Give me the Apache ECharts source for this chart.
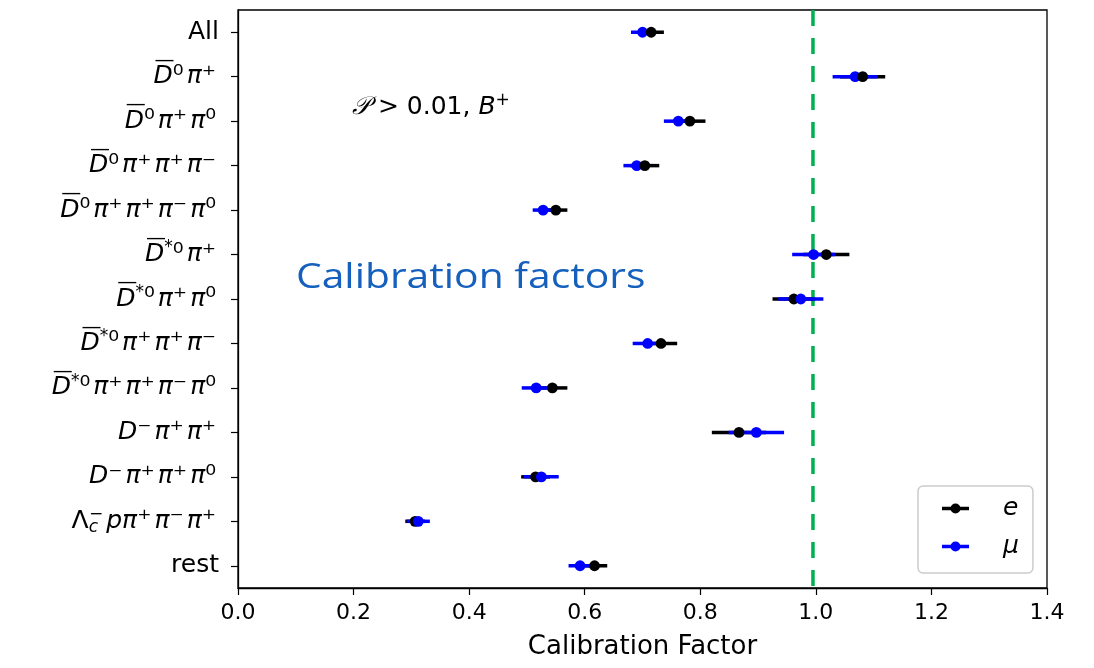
<!DOCTYPE html>
<html><head><meta charset="utf-8">
<script src="https://cdn.jsdelivr.net/npm/echarts@6/dist/echarts.min.js"></script>
<style>html,body{margin:0;padding:0;background:#fff}#c{width:1094px;height:668px}</style>
</head><body><div id="c"></div>
<script>
// ---- data ----
// '~D' = overlined D, '^{..}' superscript, '_{..}' subscript
const categories = [
  'All',
  '~D^{0}π^{+}',
  '~D^{0}π^{+}π^{0}',
  '~D^{0}π^{+}π^{+}π^{−}',
  '~D^{0}π^{+}π^{+}π^{−}π^{0}',
  '~D^{*0}π^{+}',
  '~D^{*0}π^{+}π^{0}',
  '~D^{*0}π^{+}π^{+}π^{−}',
  '~D^{*0}π^{+}π^{+}π^{−}π^{0}',
  'D^{−}π^{+}π^{+}',
  'D^{−}π^{+}π^{+}π^{0}',
  'Λ_{c}^{−}pπ^{+}π^{−}π^{+}',
  'rest'
];
const eValues  = [0.715, 1.081, 0.782, 0.704, 0.550, 1.018, 0.962, 0.732, 0.544, 0.867, 0.515, 0.3065, 0.617];
const eErrors  = [0.022, 0.039, 0.027, 0.025, 0.020, 0.040, 0.037, 0.028, 0.026, 0.047, 0.025, 0.017, 0.022];
const muValues = [0.700, 1.068, 0.762, 0.690, 0.528, 0.996, 0.974, 0.709, 0.516, 0.897, 0.525, 0.312, 0.592];
const muErrors = [0.020, 0.039, 0.025, 0.023, 0.018, 0.037, 0.039, 0.026, 0.025, 0.048, 0.030, 0.020, 0.020];
const seriesNames = ['e', 'μ'];
const refLine = 0.995;
const xMin = 0, xMax = 1.4, xStep = 0.2;
const axisTitle = 'Calibration Factor';
const cutText = '0.01';
const overlayText = 'Calibration factors';

// ---- helpers ----
const F = 'DejaVu Sans';
const SUP = { '0': '\u2070', '+': '\u207A', '−': '\u207B' };
function toRich(s) {
  if (!/[\^_~]/.test(s)) return '{r|' + s + '}';
  let out = '', buf = '', i = 0, afterSub = false;
  const flush = () => { if (buf) { out += '{m|' + buf + '}'; buf = ''; } };
  while (i < s.length) {
    const ch = s[i];
    if ((ch === '^' || ch === '_') && s[i + 1] === '{') {
      const j = s.indexOf('}', i);
      const body = s.slice(i + 2, j);
      flush();
      if (ch === '_') out += '{sub|' + body + '}';
      else if (afterSub) out += '{supk|' + body + '}';
      else {
        let u = '';
        for (const c of body) {
          if (c === '*') { if (u) { out += '{u|' + u + '}'; u = ''; } out += '{ast|*}'; }
          else u += SUP[c];
        }
        out += '{u|' + u + '}';
      }
      afterSub = ch === '_';
      i = j + 1;
      continue;
    }
    afterSub = false;
    if (ch === '~') { flush(); out += '{bar|—}{mb|' + s[i + 1] + '}'; i += 2; }
    else if (ch === 'Λ') { flush(); out += '{up|Λ}'; i++; }
    else { buf += ch; i++; }
  }
  flush();
  return out;
}
const richLabel = {
  r:    { fontFamily: F, fontSize: 25, lineHeight: 30, color: '#000' },
  m:    { fontFamily: F, fontSize: 25, fontStyle: 'italic', lineHeight: 30, color: '#000' },
  u:    { fontFamily: F, fontSize: 27, lineHeight: 30, padding: [0, 3, 0, 0], color: '#000' },
  ast:  { fontFamily: F, fontSize: 17, lineHeight: 19, verticalAlign: 'top', color: '#000' },
  bar:  { fontFamily: F, fontSize: 20, lineHeight: 22, verticalAlign: 'top', padding: [-11, 0, 0, 2], color: '#000' },
  mb:   { fontFamily: F, fontSize: 25, fontStyle: 'italic', lineHeight: 30, padding: [0, 0, 0, -21], color: '#000' },
  up:   { fontFamily: F, fontSize: 25, lineHeight: 30, color: '#000' },
  supk: { fontFamily: F, fontSize: 17, lineHeight: 19, verticalAlign: 'top', padding: [0, 3, 0, -9], color: '#000' },
  sub:  { fontFamily: F, fontSize: 17, fontStyle: 'italic', lineHeight: 15, verticalAlign: 'bottom', color: '#000' }
};
const ICON = 'path://M0,3.3H27V6.7H0Z M8.5,5A5,5 0 1 1 18.5,5A5,5 0 1 1 8.5,5Z';

function errSeries(name, vals, errs, other, color) {
  return {
    type: 'custom', name: name,
    itemStyle: { color: color },
    data: vals.map((v, i) => [v, i, errs[i], other[i]]),
    encode: { x: 0, y: 1 },
    renderItem: function (params, api) {
      const v = api.value(0), idx = api.value(1), err = api.value(2), o = api.value(3);
      const p = api.coord([v, idx]);
      const lo = api.coord([v - err, idx]);
      const hi = api.coord([v + err, idx]);
      return {
        type: 'group', children: [
          { type: 'line', z2: 1, shape: { x1: lo[0], y1: lo[1], x2: hi[0], y2: hi[1] }, style: { stroke: color, lineWidth: 3.5 } },
          { type: 'circle', z2: v > o ? 20 : 10, shape: { cx: p[0], cy: p[1], r: 5.4 }, style: { fill: color } }
        ]
      };
    }
  };
}
const refSeries = {
  type: 'custom', name: 'ref', silent: true, z: 1,
  data: [[refLine, 0]],
  encode: { x: 0, y: 1 },
  renderItem: function (params, api) {
    const cs = params.coordSys;
    const p = api.coord([api.value(0), 0]);
    return { type: 'line', shape: { x1: p[0], y1: cs.y, x2: p[0], y2: cs.y + cs.height },
      style: { stroke: '#00B050', lineWidth: 3.5, lineDash: [16, 12] } };
  }
};

const chart = echarts.init(document.getElementById('c'));
chart.setOption({
  animation: false,
  backgroundColor: '#fff',
  grid: { left: 238, right: 47, top: 10, bottom: 80, show: true, borderColor: '#000', borderWidth: 1.3, backgroundColor: 'transparent' },
  xAxis: {
    type: 'value', min: xMin, max: xMax, interval: xStep,
    splitLine: { show: false },
    axisLine: { show: true, lineStyle: { color: '#000', width: 1.3 } },
    axisTick: { show: true, length: 7, lineStyle: { color: '#000', width: 1.2 } },
    axisLabel: { fontFamily: F, fontSize: 22, color: '#000', margin: 14, formatter: v => v.toFixed(1) },
    name: axisTitle, nameLocation: 'middle', nameGap: 46,
    nameTextStyle: { fontFamily: F, fontSize: 26, color: '#000' }
  },
  yAxis: {
    type: 'category', data: categories, inverse: true,
    axisLine: { show: true, lineStyle: { color: '#000', width: 1.3 } },
    axisTick: { show: true, alignWithLabel: true, length: 7, lineStyle: { color: '#000', width: 1.2 } },
    axisLabel: { margin: 19, formatter: v => toRich(v), rich: richLabel },
    splitLine: { show: false }
  },
  legend: {
    orient: 'vertical', left: 918, top: 486,
    padding: [10, 14, 14, 24], itemGap: 13,
    itemWidth: 27, itemHeight: 10,
    backgroundColor: '#fff', borderColor: '#cccccc', borderWidth: 1.5, borderRadius: 5,
    data: seriesNames.map(n => ({ name: n, icon: ICON })),
    formatter: n => '{i|' + n + '}',
    textStyle: { padding: [0, 0, 0, 29], rich: { i: { fontFamily: F, fontSize: 25, fontStyle: 'italic', lineHeight: 26, color: '#000' } } }
  },
  graphic: [
    {
      type: 'text', left: 352, top: 92, silent: true,
      style: {
        text: '{cal|𝒫}{n| > ' + cutText + ', }{i|B}{sup|+}',
        rich: {
          cal: { fontFamily: F, fontSize: 25, fontStyle: 'italic', lineHeight: 30 },
          n:   { fontFamily: F, fontSize: 25, lineHeight: 30 },
          i:   { fontFamily: F, fontSize: 25, fontStyle: 'italic', lineHeight: 30 },
          sup: { fontFamily: F, fontSize: 17, lineHeight: 18, verticalAlign: 'top' }
        }
      }
    },
    {
      type: 'text', left: 296, top: 261, scaleX: 1.2, silent: true,
      style: { text: overlayText, fontFamily: 'Open Sans', fontSize: 34, fill: '#1560BD' }
    }
  ],
  series: [refSeries,
    errSeries(seriesNames[0], eValues, eErrors, muValues, '#000000'),
    errSeries(seriesNames[1], muValues, muErrors, eValues, '#0000FF')]
});
</script>
</body></html>
